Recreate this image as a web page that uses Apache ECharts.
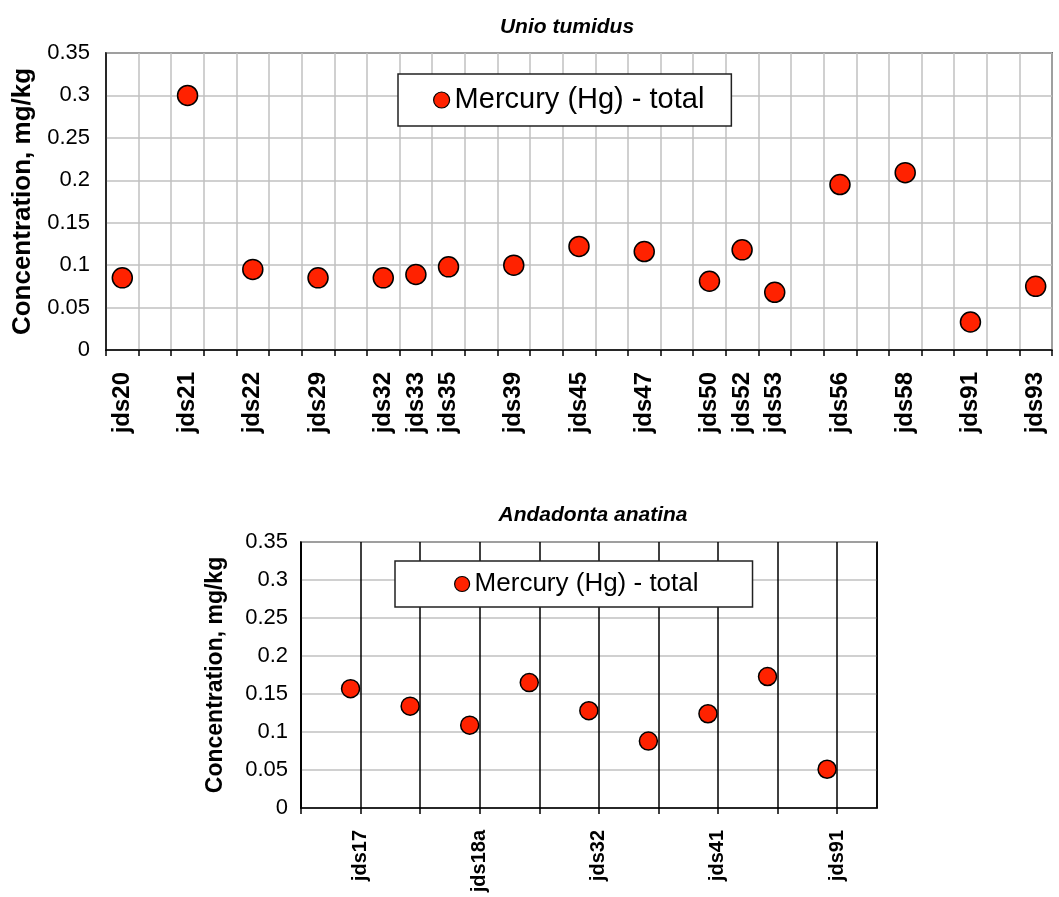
<!DOCTYPE html>
<html>
<head>
<meta charset="utf-8">
<script src="https://cdn.jsdelivr.net/npm/echarts@6/dist/echarts.min.js"></script>
<style>
html,body{margin:0;padding:0;background:#fff;}
#chart{width:1059px;height:897px;}
</style>
</head>
<body>
<div id="chart"></div>
<script>
// ---- Data ----
const seriesName = 'Mercury (Hg) - total';
const topTitle = 'Unio tumidus';
const bottomTitle = 'Andadonta anatina';
const yAxisName = 'Concentration, mg/kg';

// Upper chart (Unio tumidus): category slots, empty strings are unlabeled empty slots
const topCategories = ['jds20','','jds21','','jds22','','jds29','','jds32','jds33','jds35','','jds39','','jds45','','jds47','','jds50','jds52','jds53','','jds56','','jds58','','jds91','','jds93'];
const topValues = [0.085,'-',0.300,'-',0.095,'-',0.085,'-',0.085,0.089,0.098,'-',0.100,'-',0.122,'-',0.116,'-',0.081,0.118,0.068,'-',0.195,'-',0.209,'-',0.033,'-',0.075];

// Lower chart (Andadonta anatina): sample positions 1..9, only every second one labelled
const bottomLabels = ['jds17','','jds18a','','jds32','','jds41','','jds91'];
const bottomValues = [0.157,0.134,0.109,0.165,0.128,0.088,0.124,0.173,0.051];

const yTicks = {min: 0, max: 0.35, interval: 0.05};

// ---- Chart ----
const FONT = '"Liberation Sans", Arial, Helvetica, sans-serif';
const RED = '#ff2200';
const chart = echarts.init(document.getElementById('chart'), null, {renderer: 'canvas'});

const option = {
  backgroundColor: '#fff',
  animation: false,
  textStyle: {fontFamily: FONT, color: '#000'},
  title: [
    {text: topTitle, left: 562, top: 12, textAlign: 'center',
     textStyle: {fontFamily: FONT, fontSize: 21, fontWeight: 'bold', fontStyle: 'italic', color: '#000'}},
    {text: bottomTitle, left: 588, top: 500, textAlign: 'center',
     textStyle: {fontFamily: FONT, fontSize: 21, fontWeight: 'bold', fontStyle: 'italic', color: '#000'}}
  ],
  legend: [
    {data: [seriesName], left: 398, top: 74, orient: 'horizontal',
     padding: [11, 27, 11, 35], itemWidth: 16, itemHeight: 16,
     backgroundColor: '#fff', borderColor: '#222', borderWidth: 1.5,
     icon: 'circle',
     itemStyle: {color: RED, borderColor: '#000', borderWidth: 1.2},
     textStyle: {fontFamily: FONT, fontSize: 29, color: '#000', lineHeight: 30}},
    {data: [seriesName], left: 395, top: 561, orient: 'horizontal',
     padding: [9, 54, 9, 59], itemWidth: 15, itemHeight: 15,
     backgroundColor: '#fff', borderColor: '#222', borderWidth: 1.5,
     icon: 'circle',
     itemStyle: {color: RED, borderColor: '#000', borderWidth: 1.2},
     textStyle: {fontFamily: FONT, fontSize: 26, color: '#000', lineHeight: 28}}
  ],
  grid: [
    {left: 106, right: 7, top: 53, bottom: 547, show: true, borderColor: '#000', borderWidth: 1.5, backgroundColor: 'transparent'},
    {left: 301, right: 182, top: 542, bottom: 89, show: true, borderColor: '#000', borderWidth: 1.5, backgroundColor: 'transparent'}
  ],
  xAxis: [
    {gridIndex: 0, type: 'category', data: topCategories, boundaryGap: true,
     axisLine: {show: true, lineStyle: {color: '#000', width: 1.5}},
     axisTick: {show: true, interval: 0, length: 6, lineStyle: {color: '#000', width: 1.5}},
     splitLine: {show: true, interval: 0, lineStyle: {color: '#c0c0c0', width: 1.5}},
     axisLabel: {interval: 0, rotate: 90, margin: 22, fontFamily: FONT, fontSize: 24, fontWeight: 'bold', color: '#000'}},
    {gridIndex: 1, type: 'value', min: 0, max: 9.67, interval: 1,
     axisLine: {show: true, lineStyle: {color: '#000', width: 1.5}},
     axisTick: {show: true, length: 6, lineStyle: {color: '#000', width: 1.5}},
     splitLine: {show: true, lineStyle: {color: '#000', width: 1.5}},
     axisLabel: {rotate: 90, margin: 22, showMaxLabel: false, fontFamily: FONT, fontSize: 20, fontWeight: 'bold', color: '#000',
       formatter: v => (Number.isInteger(v) && v >= 1 && v <= bottomLabels.length) ? bottomLabels[v - 1] : ''}}
  ],
  yAxis: [
    {gridIndex: 0, type: 'value', min: yTicks.min, max: yTicks.max, interval: yTicks.interval,
     name: yAxisName, nameLocation: 'middle', nameGap: 68, nameRotate: 90,
     nameTextStyle: {fontFamily: FONT, fontSize: 26, fontWeight: 'bold', color: '#000'},
     axisLine: {show: true, lineStyle: {color: '#000', width: 1.5}},
     axisTick: {show: false},
     splitLine: {show: true, lineStyle: {color: '#c0c0c0', width: 1.5}},
     axisLabel: {margin: 16, fontFamily: FONT, fontSize: 22, color: '#000'}},
    {gridIndex: 1, type: 'value', min: yTicks.min, max: yTicks.max, interval: yTicks.interval,
     name: yAxisName, nameLocation: 'middle', nameGap: 74, nameRotate: 90,
     nameTextStyle: {fontFamily: FONT, fontSize: 23, fontWeight: 'bold', color: '#000'},
     axisLine: {show: true, lineStyle: {color: '#000', width: 1.5}},
     axisTick: {show: false},
     splitLine: {show: true, lineStyle: {color: '#c0c0c0', width: 1.5}},
     axisLabel: {margin: 13, fontFamily: FONT, fontSize: 22, color: '#000'}}
  ],
  series: [
    {name: seriesName, type: 'scatter', xAxisIndex: 0, yAxisIndex: 0,
     data: topValues, symbol: 'circle', symbolSize: 20, z: 5,
     itemStyle: {color: RED, borderColor: '#000', borderWidth: 1.5, opacity: 1}},
    {name: seriesName, type: 'scatter', xAxisIndex: 1, yAxisIndex: 1,
     data: bottomValues.map((v, i) => [i + 1, v]), symbol: 'circle', symbolSize: 18,
     symbolOffset: [-10, 0], z: 5,
     itemStyle: {color: RED, borderColor: '#000', borderWidth: 1.5, opacity: 1}}
  ]
};
chart.setOption(option);
</script>
</body>
</html>
